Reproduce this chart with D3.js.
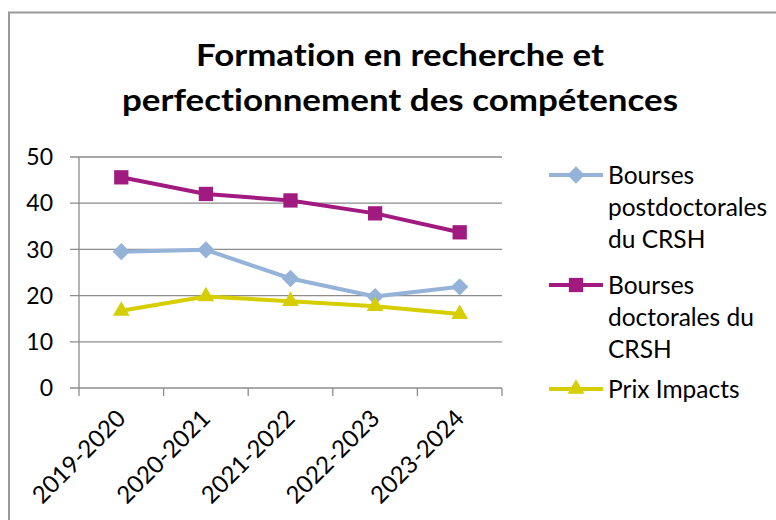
<!DOCTYPE html>
<html>
<head>
<meta charset="utf-8">
<script src="https://cdn.jsdelivr.net/npm/d3@7"></script>
<style>
  html, body { margin: 0; padding: 0; background: #fff; }
  svg { display: block; font-family: Lato, "Open Sans", sans-serif; font-variant-ligatures: none; font-feature-settings: "liga" 0; }
</style>
</head>
<body>
<svg id="chart" width="776" height="520"></svg>
<script>
// Academic years on the category axis
const categories = ["2019-2020", "2020-2021", "2021-2022", "2022-2023", "2023-2024"];

// Series values per academic year
const postdocValues = [29.5, 29.9, 23.7, 19.8, 21.9];
const doctoralValues = [45.6, 42.0, 40.6, 37.8, 33.7];
const impactValues = [16.7, 19.8, 18.8, 17.7, 16.0];

const yTicks = [0, 10, 20, 30, 40, 50];

const titleLines = ["Formation en recherche et", "perfectionnement des compétences"];

const series = [
  { name: ["Bourses", "postdoctorales", "du CRSH"], values: postdocValues, color: "#95B3D9", symbol: d3.symbolDiamond2, size: 190 },
  { name: ["Bourses", "doctorales du", "CRSH"], values: doctoralValues, color: "#A01A80", symbol: d3.symbolSquare2, size: 260 },
  { name: ["Prix Impacts"], values: impactValues, color: "#D6CE00", symbol: d3.symbolTriangle2, size: 200 }
];

const svg = d3.select("#chart");

// Chart frame
svg.append("path")
  .attr("d", "M9,530 V12.5 H790")
  .attr("fill", "none")
  .attr("stroke", "#9a9a9a")
  .attr("stroke-width", 2);

// Title
svg.append("g").selectAll("text")
  .data(titleLines)
  .join("text")
  .attr("x", 400)
  .attr("y", (d, i) => 66 + i * 45)
  .attr("text-anchor", "middle")
  .attr("font-size", 30)
  .attr("font-weight", "bold")
  .attr("fill", "#000")
  .attr("textLength", (d, i) => i === 0 ? 408 : 556)
  .attr("lengthAdjust", "spacingAndGlyphs")
  .text(d => d);

const plot = { left: 79, right: 502, top: 157, bottom: 388 };

const x = d3.scaleBand().domain(categories).range([plot.left, plot.right]);
const y = d3.scaleLinear().domain([0, 50]).range([plot.bottom, plot.top]);

// Horizontal gridlines
svg.append("g").selectAll("line")
  .data(yTicks)
  .join("line")
  .attr("x1", plot.left - 9)
  .attr("x2", plot.right)
  .attr("y1", d => y(d))
  .attr("y2", d => y(d))
  .attr("stroke", "#8c8c8c")
  .attr("stroke-width", 1.3);

// Y axis line
svg.append("line")
  .attr("x1", plot.left).attr("x2", plot.left)
  .attr("y1", plot.top).attr("y2", plot.bottom)
  .attr("stroke", "#8c8c8c").attr("stroke-width", 1.3);

// Y tick labels
svg.append("g").selectAll("text")
  .data(yTicks)
  .join("text")
  .attr("x", 53)
  .attr("y", d => y(d))
  .attr("dy", "0.36em")
  .attr("text-anchor", "end")
  .attr("font-size", 23)
  .attr("fill", "#000")
  .text(d => d);

// X tick marks at category boundaries
const boundaries = categories.map(c => x(c)).concat([x.range()[1]]);
svg.append("g").selectAll("line")
  .data(boundaries)
  .join("line")
  .attr("x1", d => d).attr("x2", d => d)
  .attr("y1", plot.bottom).attr("y2", plot.bottom + 8)
  .attr("stroke", "#8c8c8c").attr("stroke-width", 1.3);

// Rotated category labels
svg.append("g").selectAll("text")
  .data(categories)
  .join("text")
  .attr("transform", d => `translate(${x(d) + x.bandwidth() / 2 - 6},${plot.bottom + 20}) rotate(-45)`)
  .attr("text-anchor", "end")
  .attr("dy", "0.7em")
  .attr("font-size", 24)
  .attr("fill", "#000")
  .text(d => d);

// Lines and markers
const line = d3.line()
  .x((d, i) => x(categories[i]) + x.bandwidth() / 2)
  .y(d => y(d));

series.forEach(s => {
  svg.append("path")
    .datum(s.values)
    .attr("d", line)
    .attr("fill", "none")
    .attr("stroke", s.color)
    .attr("stroke-width", 4)
    .attr("stroke-linejoin", "round");
  svg.append("g").selectAll("path")
    .data(s.values)
    .join("path")
    .attr("transform", (d, i) => `translate(${x(categories[i]) + x.bandwidth() / 2},${y(d)})`)
    .attr("d", d3.symbol().type(s.symbol).size(s.size))
    .attr("fill", s.color);
});

// Legend
const legendRows = [175, 285, 389];
const legend = svg.append("g");
series.forEach((s, k) => {
  const cy = legendRows[k];
  legend.append("line")
    .attr("x1", 549).attr("x2", 603)
    .attr("y1", cy).attr("y2", cy)
    .attr("stroke", s.color).attr("stroke-width", 4);
  legend.append("path")
    .attr("transform", `translate(576,${cy})`)
    .attr("d", d3.symbol().type(s.symbol).size(s.size))
    .attr("fill", s.color);
  legend.append("g").selectAll("text")
    .data(s.name)
    .join("text")
    .attr("x", 608)
    .attr("y", (d, i) => cy + i * 32)
    .attr("dy", "0.36em")
    .attr("font-size", 24.5)
    .attr("fill", "#000")
    .text(d => d);
});
</script>
</body>
</html>
